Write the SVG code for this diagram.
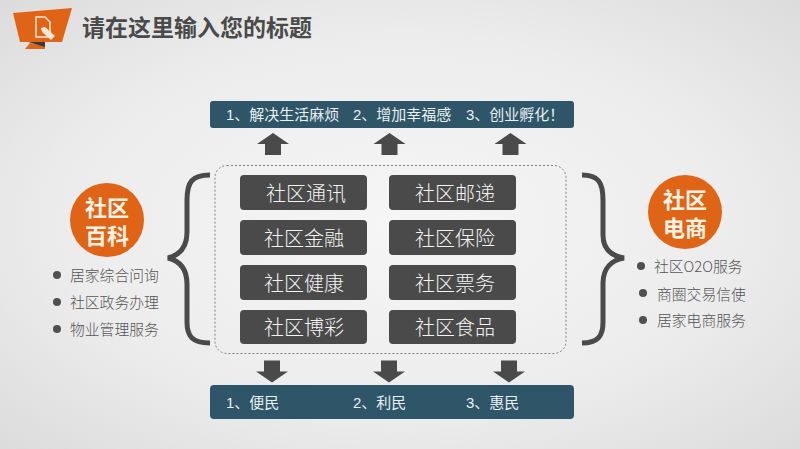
<svg xmlns="http://www.w3.org/2000/svg" width="800" height="449" viewBox="0 0 800 449">
<defs>
<radialGradient id="bg" cx="50%" cy="50%" r="70%"><stop offset="0" stop-color="#f6f6f6"/><stop offset="0.6" stop-color="#ececec"/><stop offset="1" stop-color="#dcdcdc"/></radialGradient>
<path id="up" d="M0 11L16 0L32 11L24 11L24 22L8 22L8 11Z" fill="#4a4a4a"/>
</defs>
<style>
text{font-family:"Liberation Sans","Noto Sans CJK SC",sans-serif}
.b{fill:#4a4a4a}
.bt{fill:#f4f4f4;font-size:20px;text-anchor:middle;font-family:"Noto Sans CJK SC",sans-serif;font-weight:300}
.bar{fill:#2f5568}
.bart{fill:#e8f0f2;font-size:15px}
.c{fill:#e06416}
.ct{fill:#fbf3e6;font-size:22px;font-weight:700;text-anchor:middle;font-family:"Noto Sans CJK SC",sans-serif}
.l{fill:#555;font-size:14.800px;font-family:"Noto Sans CJK SC",sans-serif;font-weight:300}
.d{fill:#505050}
.br{fill:none;stroke:#4a4a4a;stroke-width:5}
</style>
<rect width="800" height="449" fill="url(#bg)"/>
<g id="header">
<path d="M25 49L30 43L45 46L45 49Z" fill="#e06416"/>
<path d="M25 41L45 47L45 41Z" fill="#3a3a3a"/>
<path d="M13 13L72 8L62 42L20 42Z" fill="#e06416"/>
<path d="M36 17H45L50 22V37H36Z" fill="none" stroke="#f4e6d8" stroke-width="1.500"/>
<path d="M41 28L45 27L55 36L51 40L42 32Z" fill="#f4e6d8"/>
<text x="82" y="36" font-size="23" font-weight="700" fill="#4a4a4a" style="font-family:'Noto Sans CJK SC',sans-serif">请在这里输入您的标题</text>
</g>
<g id="top-bar">
<rect class="bar" x="210" y="101" width="364" height="27" rx="3"/>
<text class="bart" x="226" y="120">1、解决生活麻烦</text>
<text class="bart" x="353" y="120">2、增加幸福感</text>
<text class="bart" x="466" y="120">3、创业孵化！</text>
</g>
<g id="connectors">
<use href="#up" x="257" y="133"/>
<use href="#up" x="373.500" y="133"/>
<use href="#up" x="494.500" y="133"/>
<use href="#up" transform="translate(288 382.500) scale(-1 -1)"/>
<use href="#up" transform="translate(405 382.500) scale(-1 -1)"/>
<use href="#up" transform="translate(525 382.500) scale(-1 -1)"/>
<path class="br" d="M210 175C192 175 187 182 187 200V232C187 247 180 255 168 258C180 261 187 269 187 284V322C187 336 192 343 210 343"/>
<path class="br" d="M582 175C598 175 603 182 603 200V235C603 250 612 256 624 258C612 260 603 268 603 283V322C603 336 598 343 582 343"/>
<rect x="215" y="165.500" width="351" height="188" rx="12" fill="none" stroke="#666" stroke-width="0.800" stroke-dasharray="2 2"/>
</g>
<g id="n1"><rect class="b" x="240" y="175" width="127" height="35" rx="4"/><text class="bt" x="306" y="201">社区通讯</text></g>
<g id="n2"><rect class="b" x="389" y="175" width="127" height="35" rx="4"/><text class="bt" x="455" y="201">社区邮递</text></g>
<g id="n3"><rect class="b" x="240" y="220" width="127" height="35" rx="4"/><text class="bt" x="304" y="246">社区金融</text></g>
<g id="n4"><rect class="b" x="389" y="220" width="127" height="35" rx="4"/><text class="bt" x="455" y="246">社区保险</text></g>
<g id="n5"><rect class="b" x="240" y="265" width="127" height="35" rx="4"/><text class="bt" x="304" y="291">社区健康</text></g>
<g id="n6"><rect class="b" x="389" y="265" width="127" height="35" rx="4"/><text class="bt" x="455" y="291">社区票务</text></g>
<g id="n7"><rect class="b" x="240" y="310" width="127" height="34" rx="4"/><text class="bt" x="304" y="335">社区博彩</text></g>
<g id="n8"><rect class="b" x="389" y="310" width="127" height="34" rx="4"/><text class="bt" x="455" y="335">社区食品</text></g>
<g id="bottom-bar">
<rect class="bar" x="210" y="385" width="364" height="34" rx="4"/>
<text class="bart" x="226" y="408">1、便民</text>
<text class="bart" x="353" y="408">2、利民</text>
<text class="bart" x="466" y="408">3、惠民</text>
</g>
<g id="left">
<circle class="c" cx="107" cy="220" r="37"/>
<text class="ct"><tspan x="107" y="216">社区</tspan><tspan x="107" y="244">百科</tspan></text>
<circle class="d" cx="57" cy="275" r="4"/><text class="l" x="70" y="281">居家综合问询</text>
<circle class="d" cx="57" cy="302" r="4"/><text class="l" x="70" y="308">社区政务办理</text>
<circle class="d" cx="57" cy="329" r="4"/><text class="l" x="70" y="335">物业管理服务</text>
</g>
<g id="right">
<circle class="c" cx="685" cy="212" r="37"/>
<text class="ct"><tspan x="685" y="208">社区</tspan><tspan x="685" y="236">电商</tspan></text>
<circle class="d" cx="641" cy="266" r="4"/><text class="l" x="654" y="272">社区O2O服务</text>
<circle class="d" cx="643" cy="293" r="4"/><text class="l" x="657" y="300">商圈交易信使</text>
<circle class="d" cx="643" cy="320" r="4"/><text class="l" x="657" y="326">居家电商服务</text>
</g>
</svg>
